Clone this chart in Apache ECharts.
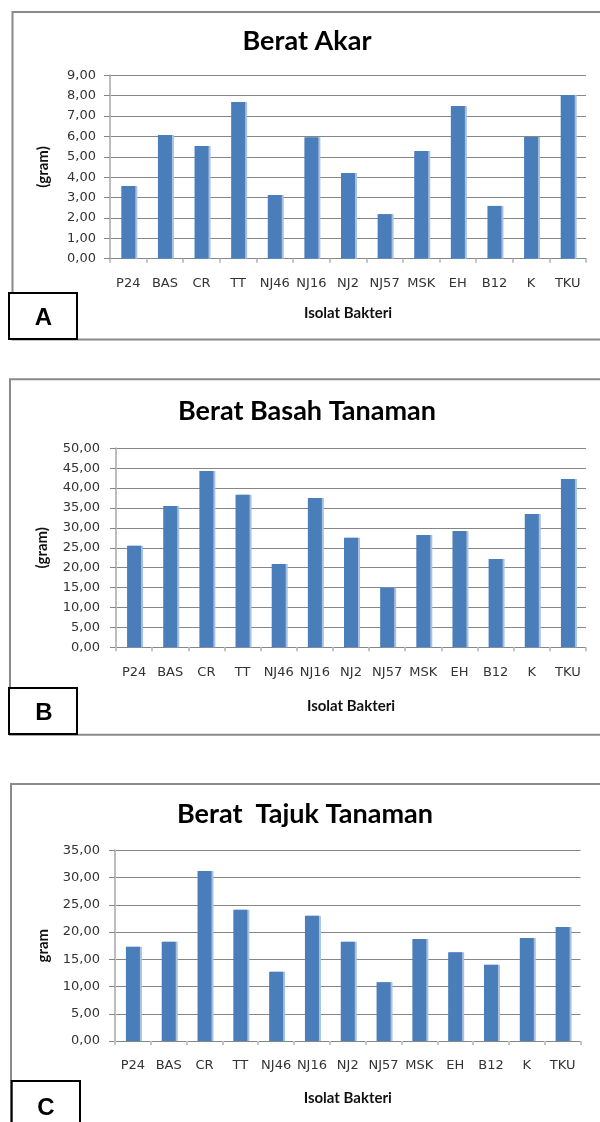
<!DOCTYPE html>
<html>
<head>
<meta charset="utf-8">
<script src="https://cdn.jsdelivr.net/npm/echarts@6/dist/echarts.min.js"></script>
<style>
html,body{margin:0;padding:0;background:#fff;}
#chart{width:600px;height:1122px;}
</style>
</head>
<body>
<div id="chart"></div>
<script>
const categories = ['P24','BAS','CR','TT','NJ46','NJ16','NJ2','NJ57','MSK','EH','B12','K','TKU'];
const beratAkar = [3.57,6.07,5.53,7.69,3.13,5.96,4.20,2.19,5.28,7.49,2.59,5.97,8.03];
const beratBasah = [25.5,35.5,44.3,38.3,20.9,37.5,27.5,15.0,28.2,29.2,22.2,33.5,42.3];
const beratTajuk = [17.3,18.2,31.2,24.1,12.7,23.0,18.2,10.8,18.7,16.3,14.0,18.9,20.9];
const titles = ['Berat Akar','Berat Basah Tanaman','Berat  Tajuk Tanaman'];
const yNames = ['(gram)','(gram)','gram'];
const xName = 'Isolat Bakteri';
const panelLetters = ['A','B','C'];
const yMax = [9, 50, 35];
const yStep = [1, 5, 5];

const chart = echarts.init(document.getElementById('chart'), null, {renderer:'canvas'});

const grids = [
  {left:110, top:75.3, width:476, height:183.4},
  {left:116, top:448.3, width:470, height:199},
  {left:115, top:850.3, width:465.5, height:190.7}
];
const yNameGap = [59.5, 66.5, 64.5];
const xNameGap = [47, 51, 49.5];
const xLabelMargin = [18, 19, 18.5];
const yLabelMargin = [14, 16, 15];
const seriesData = [beratAkar, beratBasah, beratTajuk];

const gridColor = '#868686';
const labelFont = 'DejaVu Sans';
const boldFont = 'Lato';

const xAxes = grids.map((g,i)=>({
  type:'category', gridIndex:i, data:categories,
  name:xName, nameLocation:'middle', nameGap:xNameGap[i],
  nameTextStyle:{fontFamily:boldFont, fontWeight:'bold', fontSize:15, color:'#111'},
  axisLine:{show:true, lineStyle:{color:gridColor, width:1}},
  axisTick:{show:true, length:4, lineStyle:{color:'#c4c4c4', width:2}},
  axisLabel:{fontFamily:labelFont, fontSize:13, color:'#333', margin:xLabelMargin[i], interval:0},
  splitLine:{show:false}
}));
const yAxes = grids.map((g,i)=>({
  type:'value', gridIndex:i, min:0, max:yMax[i], interval:yStep[i],
  name:yNames[i], nameLocation:'middle', nameGap:yNameGap[i],
  nameTextStyle:{fontFamily:boldFont, fontWeight:'bold', fontSize:15, color:'#111'},
  axisLine:{show:true, lineStyle:{color:'#bdbdbd', width:2}},
  axisTick:{show:true, length:6, lineStyle:{color:gridColor, width:1}},
  axisLabel:{fontFamily:labelFont, fontSize:13, color:'#333', margin:yLabelMargin[i],
    formatter:v=>v.toFixed(2).replace('.', ',')},
  splitLine:{show:true, lineStyle:{color:gridColor, width:1}}
}));
const series = seriesData.map((d,i)=>({
  type:'bar', xAxisIndex:i, yAxisIndex:i, data:d, barWidth:14,
  itemStyle:{color:'#4a7ebb', shadowColor:'#a9c1e1', shadowOffsetX:2, shadowOffsetY:0, shadowBlur:0},
  silent:true
}));

const frames = [
  {x:12.5, y:12, w:600, h:327.5},
  {x:10, y:379.3, w:600, h:355.5},
  {x:11, y:784, w:600, h:400}
];
const titlePos = [[307,41],[307,411.5],[305,814]];
const boxes = [
  {x:9, y:293, w:68, h:46, lx:43.5, ly:318},
  {x:9, y:688, w:68, h:46, lx:44, ly:713},
  {x:11.7, y:1081, w:68.3, h:60, lx:46, ly:1108}
];
const graphic = [];
frames.forEach(f=>graphic.push({type:'rect', z:0, shape:{x:f.x, y:f.y, width:f.w, height:f.h},
  style:{fill:'none', stroke:'#8a8a8a', lineWidth:2}}));
titles.forEach((t,i)=>graphic.push({type:'text', z:10, x:titlePos[i][0], y:titlePos[i][1],
  style:{text:t, fontFamily:boldFont, fontWeight:'bold', fontSize:27, fill:'#000', align:'center', verticalAlign:'middle'}}));
boxes.forEach((b,i)=>{
  graphic.push({type:'rect', z:20, shape:{x:b.x, y:b.y, width:b.w, height:b.h},
    style:{fill:'#fff', stroke:'#000', lineWidth:2}});
  graphic.push({type:'text', z:21, x:b.lx, y:b.ly,
    style:{text:panelLetters[i], fontFamily:'Liberation Sans', fontWeight:'bold', fontSize:24, fill:'#000', align:'center', verticalAlign:'middle'}});
});

chart.setOption({
  animation:false,
  backgroundColor:'#fff',
  grid:grids,
  xAxis:xAxes,
  yAxis:yAxes,
  series:series,
  graphic:graphic
});
</script>
</body>
</html>
